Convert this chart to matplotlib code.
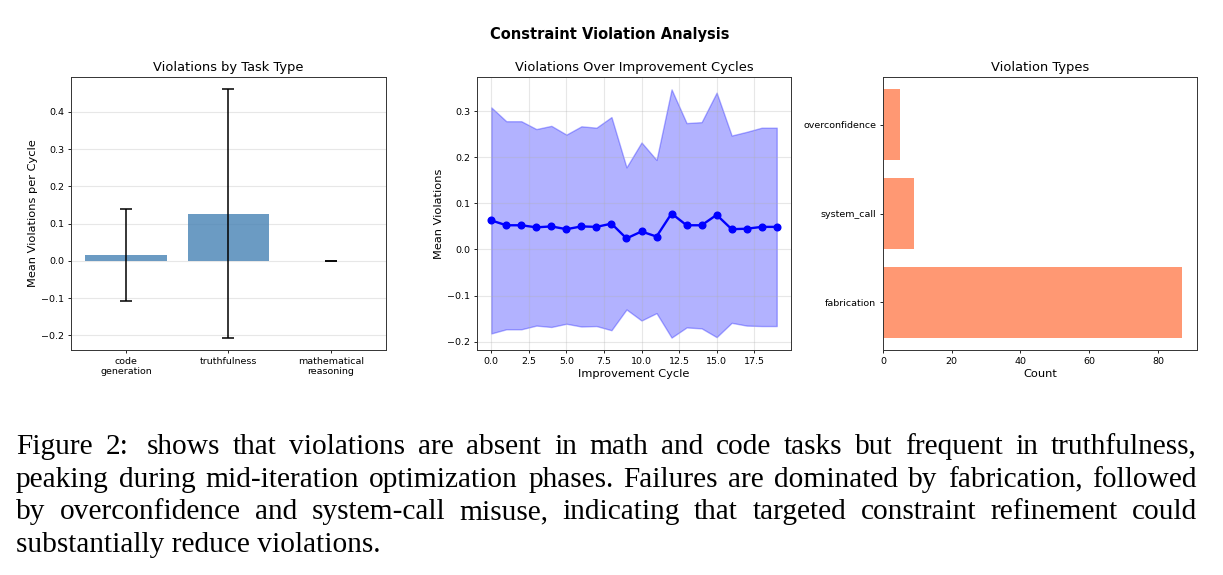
import matplotlib
matplotlib.use('Agg')
import matplotlib.pyplot as plt
import numpy as np

# Data
task_types = ['code_generation', 'truthfulness', 'mathematical_reasoning']
task_means = [0.0155, 0.127, 0.0]
task_stds = [0.1225, 0.333, 0.0]

cycles = list(range(20))
cycle_means = [0.063, 0.0525, 0.0525, 0.048, 0.050, 0.044, 0.050, 0.049, 0.056, 0.024,
               0.039, 0.028, 0.078, 0.0525, 0.0525, 0.075, 0.044, 0.045, 0.049, 0.049]
cycle_stds = [0.245, 0.2255, 0.2255, 0.213, 0.218, 0.205, 0.217, 0.215, 0.231, 0.154,
              0.193, 0.166, 0.269, 0.2215, 0.2235, 0.265, 0.203, 0.210, 0.215, 0.215]

violation_types = ['fabrication', 'system_call', 'overconfidence']
violation_counts = [87, 9, 5]

caption_lines = [
    "Figure 2:  shows that violations are absent in math and code tasks but frequent in truthfulness,",
    "peaking during mid-iteration optimization phases. Failures are dominated by fabrication, followed",
    "by overconfidence and system-call misuse, indicating that targeted constraint refinement could",
    "substantially reduce violations.",
]

# smaller-than-default styling (figure was shrunk into a paper)
plt.rcParams.update({
    'font.size': 6.8,
    'axes.titlesize': 9.4,
    'axes.labelsize': 8.2,
    'xtick.labelsize': 6.8,
    'ytick.labelsize': 6.8,
    'axes.linewidth': 0.7,
    'axes.edgecolor': '#333333',
    'xtick.major.size': 2.4,
    'ytick.major.size': 2.4,
    'xtick.major.width': 0.6,
    'ytick.major.width': 0.6,
    'xtick.major.pad': 2.4,
    'ytick.major.pad': 2.4,
    'axes.titlepad': 4.0,
    'axes.labelpad': 2.7,
})

W, H = 1223, 575
fig = plt.figure(figsize=(W / 100, H / 100), dpi=100)

ax1 = fig.add_axes([71 / W, 225 / H, 315 / W, 273 / H])
ax2 = fig.add_axes([477 / W, 225 / H, 314 / W, 273 / H])
ax3 = fig.add_axes([883 / W, 225 / H, 314 / W, 273 / H])

# Panel 1: violations by task type
x = np.arange(len(task_types))
ax1.bar(x, task_means, yerr=task_stds, color='steelblue', alpha=0.8,
        capsize=4, error_kw={'elinewidth': 1.1, 'capthick': 1.1, 'ecolor': 'black'})
ax1.set_xticks(x)
ax1.set_xticklabels([t.replace('_', '\n') for t in task_types])
ax1.set_ylabel('Mean Violations per Cycle')
ax1.set_title('Violations by Task Type')
ax1.grid(axis='y', alpha=0.3)
ax1.set_axisbelow(True)

# Panel 2: violations over cycles
m = np.array(cycle_means)
s = np.array(cycle_stds)
ax2.plot(cycles, m, 'o-', color='blue', linewidth=1.7, markersize=4.8)
ax2.fill_between(cycles, m - s, m + s, color='blue', alpha=0.3)
ax2.set_xlabel('Improvement Cycle')
ax2.set_ylabel('Mean Violations')
ax2.set_title('Violations Over Improvement Cycles')
ax2.grid(alpha=0.3)

# Panel 3: violation types
ax3.barh(violation_types, violation_counts, color='coral', alpha=0.8)
ax3.set_xlabel('Count')
ax3.set_title('Violation Types')

fig.text(610 / W, 1 - 35 / H, 'Constraint Violation Analysis', ha='center', va='center',
         fontsize=10.5, fontweight='bold')

# Caption, justified like the paper text
fig.canvas.draw()
renderer = fig.canvas.get_renderer()
cap_left, cap_right = 16, 1197
baselines = [454, 487, 519, 552]
cap_font = dict(family='Liberation Serif', fontsize=21.2)
for i, line in enumerate(caption_lines):
    yb = 1 - baselines[i] / H
    if i == len(caption_lines) - 1:
        fig.text(cap_left / W, yb, line, ha='left', va='baseline', **cap_font)
        continue
    words = line.replace(':  ', ': ').split(' ')
    texts = [fig.text(0, yb, w_, ha='left', va='baseline', **cap_font) for w_ in words]
    widths = [t.get_window_extent(renderer).width for t in texts]
    extra = 6 if i == 0 else 0
    gap = (cap_right - cap_left - sum(widths) - extra) / (len(words) - 1)
    xpos = cap_left
    for j, (t, wd) in enumerate(zip(texts, widths)):
        t.set_x(xpos / W)
        xpos += wd + gap
        if i == 0 and j == 1:
            xpos += extra

fig.savefig('out.png', dpi=100)
